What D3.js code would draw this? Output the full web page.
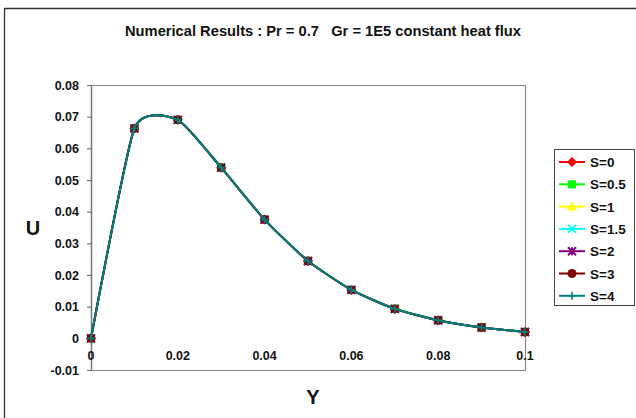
<!DOCTYPE html>
<html><head><meta charset="utf-8">
<script src="https://cdn.jsdelivr.net/npm/d3@7"></script>
<style>body{margin:0;background:#fff}svg{display:block;font-family:Arial,"Liberation Sans",sans-serif}</style>
</head><body><svg id="c" width="636" height="418"></svg>
<script>
const yPos = [0, 0.01, 0.02, 0.03, 0.04, 0.05, 0.06, 0.07, 0.08, 0.09, 0.1];
const s0   = [0, 0.0663, 0.0690, 0.0539, 0.0375, 0.0244, 0.0153, 0.0093, 0.0057, 0.0034, 0.0020];
const s05  = [0, 0.0663, 0.0690, 0.0539, 0.0375, 0.0245, 0.0153, 0.0094, 0.0057, 0.0034, 0.0020];
const s1   = [0, 0.0663, 0.0690, 0.0539, 0.0375, 0.0244, 0.0153, 0.0093, 0.0057, 0.0034, 0.0020];
const s15  = [0, 0.0663, 0.0690, 0.0539, 0.0375, 0.0244, 0.0153, 0.0093, 0.0057, 0.0034, 0.0020];
const s2   = [0, 0.0663, 0.0690, 0.0539, 0.0375, 0.0244, 0.0153, 0.0093, 0.0057, 0.0034, 0.0020];
const s3   = [0, 0.0663, 0.0690, 0.0539, 0.0375, 0.0244, 0.0153, 0.0093, 0.0057, 0.0034, 0.0020];
const s4   = [0, 0.0663, 0.0690, 0.0539, 0.0375, 0.0244, 0.0153, 0.0093, 0.0057, 0.0034, 0.0020];
const seriesNames = ["S=0", "S=0.5", "S=1", "S=1.5", "S=2", "S=3", "S=4"];
const seriesValues = [s0, s05, s1, s15, s2, s3, s4];
const seriesColors = ["#ff0000", "#00ff00", "#ffff00", "#00ffff", "#800080", "#800000", "#008080"];
const seriesMarkers = ["diamond", "square", "triangle", "x", "star", "circle", "plus"];
const xTicks = [0, 0.02, 0.04, 0.06, 0.08, 0.1];
const yTicks = [-0.01, 0, 0.01, 0.02, 0.03, 0.04, 0.05, 0.06, 0.07, 0.08];
const titleText = "Numerical Results : Pr = 0.7   Gr = 1E5 constant heat flux";

const svg = d3.select("#c");
// outer chart border (left + top)
svg.append("path").attr("d","M4.5,418 V8.5 H636").attr("fill","none").attr("stroke","#333").attr("stroke-width",1.3);

const x = d3.scaleLinear().domain([0, 0.1]).range([91, 525]);
const y = d3.scaleLinear().domain([-0.01, 0.08]).range([370, 85]);

// plot area border
svg.append("path").attr("d",`M${x(0)},${y(0.08)+0.5} H${x(0.1)+0.5} V${y(-0.01)+0.5} H${x(0)}`)
  .attr("fill","none").attr("stroke","#888").attr("stroke-width",1.2);

// y axis
svg.append("line").attr("x1",x(0)+0.5).attr("x2",x(0)+0.5).attr("y1",y(0.08)).attr("y2",y(-0.01)+1)
  .attr("stroke","#777").attr("stroke-width",1.5);
yTicks.forEach(t=>{
  svg.append("line").attr("x1",x(0)-4).attr("x2",x(0)).attr("y1",y(t)+0.5).attr("y2",y(t)+0.5)
    .attr("stroke","#777").attr("stroke-width",1.2);
  svg.append("text").attr("x",x(0)-12).attr("y",y(t)+4.5).attr("text-anchor","end")
    .attr("font-size",12.5).attr("font-weight","bold").attr("fill","#111").text(+t.toFixed(2));
});
// x tick labels (axis crossing at 0)
xTicks.forEach(t=>{
  svg.append("text").attr("x",x(t)).attr("y",y(0)+22).attr("text-anchor","middle")
    .attr("font-size",12.5).attr("font-weight","bold").attr("fill","#111").text(+t.toFixed(2));
});

// title & axis titles
svg.append("text").attr("x",323).attr("y",36).attr("text-anchor","middle").attr("font-size",14.8)
  .attr("font-weight","bold").attr("fill","#111").attr("textLength",396).attr("lengthAdjust","spacingAndGlyphs")
  .attr("xml:space","preserve").text(titleText);
svg.append("text").attr("x",33).attr("y",235).attr("text-anchor","middle").attr("font-size",20)
  .attr("font-weight","bold").attr("fill","#111").text("U");
svg.append("text").attr("x",313).attr("y",404).attr("text-anchor","middle").attr("font-size",20)
  .attr("font-weight","bold").attr("fill","#111").text("Y");

function drawMarker(g, type, cx, cy, color){
  const s = 4;
  if(type==="diamond") g.append("path").attr("d",`M${cx},${cy-s-1}L${cx+s+1},${cy}L${cx},${cy+s+1}L${cx-s-1},${cy}Z`).attr("fill",color);
  else if(type==="square") g.append("rect").attr("x",cx-s).attr("y",cy-s).attr("width",2*s).attr("height",2*s).attr("fill",color);
  else if(type==="triangle") g.append("path").attr("d",`M${cx},${cy-s-1}L${cx+s+1},${cy+s}L${cx-s-1},${cy+s}Z`).attr("fill",color);
  else if(type==="x") g.append("path").attr("d",`M${cx-s},${cy-s}L${cx+s},${cy+s}M${cx+s},${cy-s}L${cx-s},${cy+s}`).attr("stroke",color).attr("stroke-width",2);
  else if(type==="star") g.append("path").attr("d",`M${cx-s},${cy-s}L${cx+s},${cy+s}M${cx+s},${cy-s}L${cx-s},${cy+s}M${cx},${cy-s}V${cy+s}`).attr("stroke",color).attr("stroke-width",2);
  else if(type==="circle") g.append("circle").attr("cx",cx).attr("cy",cy).attr("r",s+0.5).attr("fill",color);
  else if(type==="plus") g.append("path").attr("d",`M${cx-s},${cy}H${cx+s}M${cx},${cy-s}V${cy+s}`).attr("stroke",color).attr("stroke-width",1.6);
}

const line = d3.line().x((d,i)=>x(yPos[i])).y(d=>y(d)).curve(d3.curveCardinal.tension(0.45));
const plot = svg.append("g");
seriesValues.forEach((vals,k)=>{
  const g = plot.append("g");
  g.append("path").attr("d",line(vals)).attr("fill","none").attr("stroke",seriesColors[k]).attr("stroke-width",2);
  vals.forEach((v,i)=>drawMarker(g, seriesMarkers[k], x(yPos[i]), y(v), seriesColors[k]));
});

// legend
const lg = svg.append("g");
lg.append("rect").attr("x",554.5).attr("y",149.5).attr("width",80).attr("height",156)
  .attr("fill","#fff").attr("stroke","#444").attr("stroke-width",1);
seriesNames.forEach((n,k)=>{
  const cy = 162 + k*22.3;
  lg.append("line").attr("x1",559).attr("x2",585).attr("y1",cy).attr("y2",cy).attr("stroke",seriesColors[k]).attr("stroke-width",2);
  drawMarker(lg, seriesMarkers[k], 572, cy, seriesColors[k]);
  lg.append("text").attr("x",590).attr("y",cy+5).attr("font-size",13.5).attr("font-weight","bold").attr("fill","#111").text(n);
});
</script></body></html>
